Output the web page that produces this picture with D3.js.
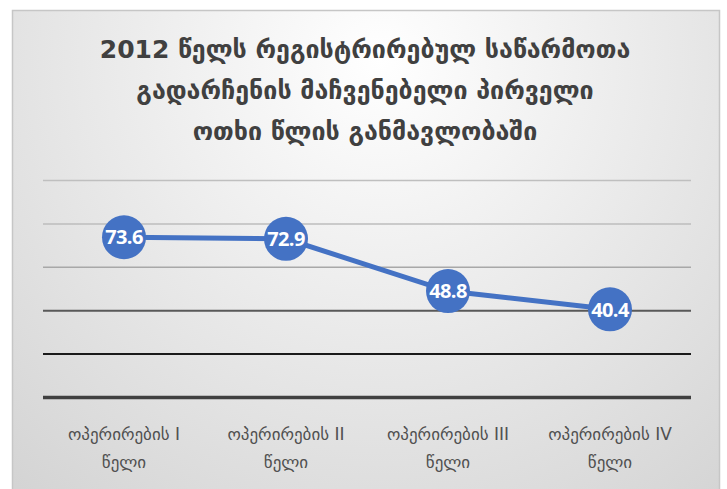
<!DOCTYPE html>
<html>
<head>
<meta charset="utf-8">
<script src="https://cdn.jsdelivr.net/npm/d3@7"></script>
<style>
  body { margin: 0; background: #fff; }
  svg { display: block; }
</style>
</head>
<body>
<div id="chart"></div>
<script>
const titleLines = [
    "2012 წელს რეგისტრირებულ საწარმოთა",
    "გადარჩენის მაჩვენებელი პირველი",
    "ოთხი წლის განმავლობაში"
];
const categories = [
    ["ოპერირების I", "წელი"],
    ["ოპერირების II", "წელი"],
    ["ოპერირების III", "წელი"],
    ["ოპერირების IV", "წელი"]
];
const values = [73.6, 72.9, 48.8, 40.4];
const yTicks = [0, 20, 40, 60, 80, 100];

const drawChart = id => {
    const width = 727;
    const height = 489;

    const svg = d3.select(id)
        .append("svg")
        .attr("width", width)
        .attr("height", height);

    const defs = svg.append("defs");
    const grad = defs.append("radialGradient")
        .attr("id", "bg")
        .attr("gradientUnits", "userSpaceOnUse")
        .attr("cx", 380).attr("cy", 60)
        .attr("r", 560);
    grad.append("stop").attr("offset", "0%").attr("stop-color", "#ffffff");
    grad.append("stop").attr("offset", "100%").attr("stop-color", "#d4d4d4");

    // chart area frame (bottom edge is cropped off)
    svg.append("rect")
        .attr("x", 12.5)
        .attr("y", 10.5)
        .attr("width", 707)
        .attr("height", 500)
        .attr("fill", "url(#bg)")
        .attr("stroke", "#c6c6c6")
        .attr("stroke-width", 1.5);

    // title
    svg.append("text")
        .attr("text-anchor", "middle")
        .attr("fill", "#404040")
        .style("font-family", "'DejaVu Sans', sans-serif")
        .style("font-weight", "bold")
        .style("font-size", "25px")
        .selectAll("tspan")
        .data(titleLines)
        .join("tspan")
        .attr("x", 365)
        .attr("y", (d, i) => 58 + i * 41)
        .text(d => d);

    const margin = { left: 43, right: 36, top: 180, bottom: 92 };

    const x = d3.scalePoint()
        .domain(d3.range(categories.length))
        .range([margin.left, width - margin.right])
        .padding(0.5);

    const y = d3.scaleLinear()
        .domain([0, 100])
        .range([height - margin.bottom, margin.top]);

    const gridColor = { 0: "#404040", 20: "#1a1a1a", 40: "#595959", 60: "#a8a8a8", 80: "#bdbdbd", 100: "#bfbfbf" };
    const gridWidth = { 0: 3.5, 20: 2, 40: 2 };

    const yAxis = svg.append("g")
        .attr("transform", `translate(${margin.left}, 0)`)
        .call(d3.axisLeft(y)
            .tickValues(yTicks)
            .tickSize(-(width - margin.left - margin.right))
            .tickFormat(""));
    yAxis.select(".domain").remove();
    yAxis.selectAll(".tick line")
        .attr("stroke", d => gridColor[d])
        .attr("stroke-width", d => gridWidth[d] || 1.5);

    // category labels
    svg.append("g")
        .selectAll("text")
        .data(categories)
        .join("text")
        .attr("text-anchor", "middle")
        .attr("fill", "#505050")
        .style("font-family", "'DejaVu Sans', sans-serif")
        .style("font-size", "17px")
        .selectAll("tspan")
        .data((d, i) => d.map(t => ({ t, i })))
        .join("tspan")
        .attr("x", d => x(d.i))
        .attr("y", (d, j) => 440 + j * 28)
        .text(d => d.t);

    const line = d3.line()
        .x((d, i) => x(i))
        .y(d => y(d));

    svg.append("path")
        .datum(values)
        .attr("d", line)
        .attr("fill", "none")
        .attr("stroke", "#4472c4")
        .attr("stroke-width", 5)
        .attr("stroke-linecap", "round");

    const points = svg.append("g")
        .selectAll("g")
        .data(values)
        .join("g")
        .attr("transform", (d, i) => `translate(${x(i)}, ${y(d)})`);

    points.append("circle")
        .attr("r", 22)
        .attr("fill", "#4472c4");

    points.append("text")
        .attr("text-anchor", "middle")
        .attr("dy", "0.36em")
        .attr("fill", "#ffffff")
        .style("font-family", "'Open Sans', sans-serif")
        .style("font-weight", "bold")
        .style("font-size", "20px")
        .style("letter-spacing", "-0.6px")
        .text(d => d.toFixed(1));
};

drawChart("#chart");
</script>
</body>
</html>
